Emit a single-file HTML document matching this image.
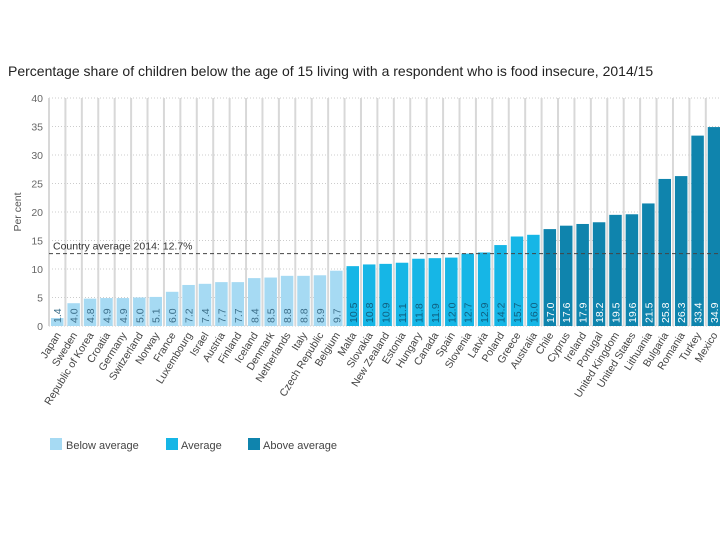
<!DOCTYPE html>
<html><head><meta charset="utf-8"><style>
body{margin:0;background:#fff;width:720px;height:540px;overflow:hidden;font-family:"Liberation Sans",sans-serif}
svg text{font-family:"Liberation Sans",sans-serif}
</style></head><body>
<svg id="chart" width="720" height="540">
<text x="8" y="76" font-size="14" fill="#222">Percentage share of children below the age of 15 living with a respondent who is food insecure, 2014/15</text>
<text transform="translate(21,212) rotate(-90)" text-anchor="middle" font-size="10.5" fill="#555">Per cent</text>
<g id="grid"></g><g id="bars"></g><g id="xl"></g>
<g>
<rect x="50" y="438" width="12" height="12" fill="#a6daf3"/>
<text x="66" y="449" font-size="11" fill="#444">Below average</text>
<rect x="166" y="438" width="12" height="12" fill="#16b6e6"/>
<text x="181" y="449" font-size="11" fill="#444">Average</text>
<rect x="248" y="438" width="12" height="12" fill="#0f84ad"/>
<text x="263" y="449" font-size="11" fill="#444">Above average</text>
</g>
</svg>
<script>
const countries=["Japan","Sweden","Republic of Korea","Croatia","Germany","Switzerland","Norway","France","Luxembourg","Israel","Austria","Finland","Iceland","Denmark","Netherlands","Italy","Czech Republic","Belgium","Malta","Slovakia","New Zealand","Estonia","Hungary","Canada","Spain","Slovenia","Latvia","Poland","Greece","Australia","Chile","Cyprus","Ireland","Portugal","United Kingdom","United States","Lithuania","Bulgaria","Romania","Turkey","Mexico"];
const values=[1.4,4.0,4.8,4.9,4.9,5.0,5.1,6.0,7.2,7.4,7.7,7.7,8.4,8.5,8.8,8.8,8.9,9.7,10.5,10.8,10.9,11.1,11.8,11.9,12.0,12.7,12.9,14.2,15.7,16.0,17.0,17.6,17.9,18.2,19.5,19.6,21.5,25.8,26.3,33.4,34.9];
const groups=["below","below","below","below","below","below","below","below","below","below","below","below","below","below","below","below","below","below","avg","avg","avg","avg","avg","avg","avg","avg","avg","avg","avg","avg","above","above","above","above","above","above","above","above","above","above","above"];
const yTicks=[0,5,10,15,20,25,30,35,40];
const average=[12.7];
const NS="http://www.w3.org/2000/svg";
const x0=49,pitch=16.42,bw=12.5,yb=326,yt=98,ymax=40;
const y=v=>yb-(yb-yt)*v/ymax;
const xc=i=>x0+pitch*(i+0.5);
const col={below:"#a6daf3",avg:"#16b6e6",above:"#0f84ad"};
const tcol={below:"#3d6f8a",avg:"#0f5f80",above:"#fff"};
function mk(t,a,p){const e=document.createElementNS(NS,t);for(const k in a)e.setAttribute(k,a[k]);p.appendChild(e);return e;}
const grid=document.getElementById('grid'),bars=document.getElementById('bars'),xl=document.getElementById('xl');
yTicks.forEach(v=>{
 const l=mk('line',{x1:x0,x2:720,y1:y(v),y2:y(v),stroke:'#ccc','stroke-dasharray':'1,2','stroke-width':1},grid);
 
 
 const t=mk('text',{x:43,y:y(v)+4,'text-anchor':'end','font-size':10.5,fill:'#666'},grid);t.textContent=v;
 
 
});
for(let i=0;i<=countries.length;i++){
 const l=mk('line',{x1:x0+pitch*i,x2:x0+pitch*i,y1:yt,y2:yb,stroke:'#d8d8d8','stroke-width':2},grid);
 
 
}
values.forEach((v,i)=>{
 const g=groups[i];
 const r=mk('rect',{x:xc(i)-bw/2,y:y(v),width:bw,height:yb-y(v),fill:col[g]},bars);
 
 
 const t=mk('text',{transform:`translate(${xc(i)+4},${yb-3}) rotate(-90)`,'font-size':10.5,fill:tcol[g]},bars);t.textContent=v.toFixed(1);
 
 
 const c=mk('text',{transform:`translate(${xc(i)+4},${yb+9}) rotate(-58)`,'text-anchor':'end','font-size':10.5,fill:'#444'},xl);c.textContent=countries[i];
 
 
});
const av=mk('line',{x1:x0,x2:720,y1:y(average[0]),y2:y(average[0]),stroke:'#444','stroke-dasharray':'4,3','stroke-width':1},bars);


const at=mk('text',{x:53,y:y(average[0])-4,'font-size':10.5,fill:'#333'},bars);at.textContent='Country average 2014: 12.7%';


</script>
</body></html>
